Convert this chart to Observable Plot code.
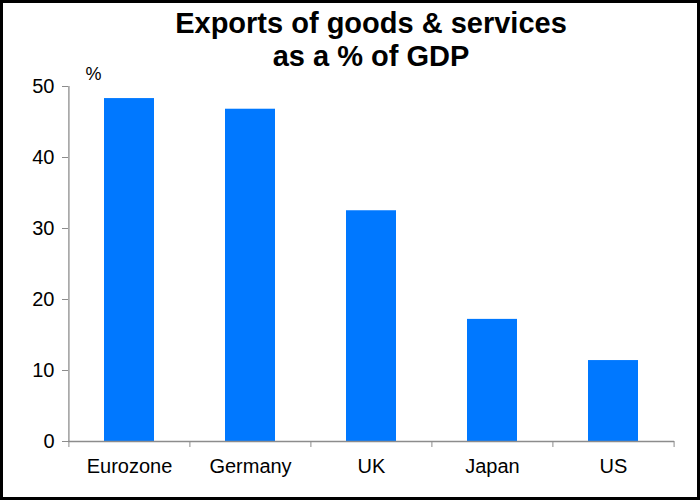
<!DOCTYPE html>
<html>
<head>
<meta charset="utf-8">
<script src="https://cdn.jsdelivr.net/npm/d3@7"></script>
<script src="https://cdn.jsdelivr.net/npm/@observablehq/plot@0.6"></script>
<style>
  html, body { margin: 0; padding: 0; background: #fff; }
  #wrap { position: relative; width: 700px; height: 500px; overflow: hidden; font-family: "Liberation Sans", Arial, sans-serif; }
  #title { position: absolute; left: 68px; width: 606px; top: 7px; text-align: center; font-weight: bold; font-size: 29px; line-height: 33px; color: #000; }
  #chart { position: absolute; left: 0; top: 0; }
  #frame { position: absolute; left: 0; top: 0; width: 700px; height: 500px; box-sizing: border-box; border: 3px solid #000; pointer-events: none; }
</style>
</head>
<body>
<div id="wrap">
  <div id="chart"></div>
  <div id="title">Exports of goods &amp; services<br>as a % of GDP</div>
  <div id="frame"></div>
</div>
<script>
const categories = ["Eurozone", "Germany", "UK", "Japan", "US"];
const values = [48.3, 46.8, 32.5, 17.2, 11.4];
const yTicks = [0, 10, 20, 30, 40, 50];
const unitLabel = "%";

const data = categories.map((c, i) => ({category: c, value: values[i]}));
const gray = "#8c8c8c";
const half = 121.2 / 2;

const chart = Plot.plot({
  width: 700,
  height: 500,
  marginTop: 86,
  marginBottom: 59,
  marginLeft: 68,
  marginRight: 26,
  style: {fontFamily: "'Liberation Sans', Arial, sans-serif", fontSize: "20px", color: "#000", background: "transparent"},
  x: {domain: categories, paddingInner: 0.59, paddingOuter: 0.295, label: null},
  y: {domain: [0, 50], label: null},
  marks: [
    Plot.barY(data, {x: "category", y: "value", fill: "#0078ff"}),
    Plot.ruleY([0], {stroke: gray, strokeWidth: 1.3}),
    Plot.ruleX([categories[0]], {x: d => d, dx: -half, y1: 0, y2: 50, stroke: gray, strokeWidth: 1.3}),
    Plot.axisY({ticks: yTicks, tickSize: 6, tickPadding: 8, stroke: gray, tickFormat: d => d, fill: "#000", fontSize: 20, label: null}),
    Plot.axisX({tickSize: 0, tickPadding: 17, fill: "#000", fontSize: 20, label: null}),
    Plot.axisX({tickSize: 6, dx: -half, stroke: gray, tickFormat: () => "", label: null}),
    Plot.axisX({ticks: [categories[categories.length - 1]], tickSize: 6, dx: half, stroke: gray, tickFormat: () => "", label: null}),
    Plot.text([unitLabel], {frameAnchor: "top-left", dx: 17, dy: -7, text: d => d, fontSize: 18, fill: "#000", textAnchor: "start", lineAnchor: "bottom"})
  ]
});
document.getElementById("chart").appendChild(chart);
</script>
</body>
</html>
